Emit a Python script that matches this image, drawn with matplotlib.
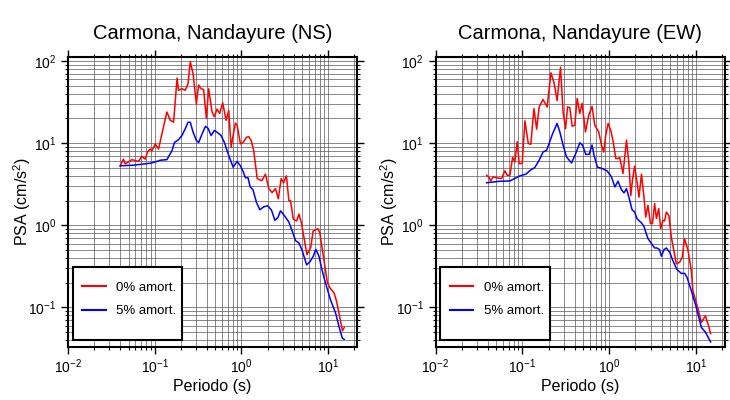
import numpy as np
import matplotlib
matplotlib.use('Agg')
import matplotlib.pyplot as plt
from matplotlib.patches import Rectangle
from matplotlib.ticker import LogLocator, NullFormatter

plt.rcParams['font.family'] = ['Liberation Sans', 'DejaVu Sans']
plt.rcParams['mathtext.fontset'] = 'custom'
plt.rcParams['mathtext.rm'] = 'Liberation Sans'
plt.rcParams['mathtext.it'] = 'Liberation Sans:italic'
plt.rcParams['mathtext.bf'] = 'Liberation Sans:bold'

# Carmona, Nandayure - NS component
ns_t0 = [0.040, 0.0436, 0.0456, 0.0498, 0.0545, 0.065, 0.0711, 0.0776, 0.0826, 0.0887,
         0.0929, 0.1014, 0.1107, 0.138, 0.151, 0.165, 0.181, 0.188, 0.206, 0.225,
         0.242, 0.257, 0.277, 0.302, 0.321, 0.342, 0.366, 0.394, 0.419, 0.458,
         0.487, 0.523, 0.561, 0.608, 0.665, 0.713, 0.760, 0.801, 0.853, 0.891,
         0.973, 1.047, 1.143, 1.214, 1.294, 1.387, 1.52, 1.72, 1.89, 2.07,
         2.26, 2.47, 2.66, 2.87, 3.07, 3.30, 3.52, 3.68, 3.96, 4.33,
         4.60, 4.90, 5.26, 5.70, 6.30, 6.70, 7.60, 8.00, 8.80, 9.80,
         10.6, 11.7, 12.5, 13.9, 14.6, 15.3]
ns_psa0 = [5.3, 6.4, 5.6, 5.9, 6.3, 6.0, 6.9, 6.4, 7.8, 8.5,
           8.1, 9.8, 8.5, 24, 19, 18, 62, 44, 46, 44,
           53, 98, 70, 30, 51, 46, 45, 20, 46, 24,
           21, 26, 23, 31, 19, 25, 8.9, 12.4, 17.6, 16.5,
           9.8, 10.2, 11.8, 12.0, 10.8, 8.1, 3.7, 3.5, 4.2, 2.8,
           2.5, 2.8, 2.1, 3.7, 3.3, 4.0, 2.0, 2.0, 1.19, 1.13,
           1.37, 1.08, 0.71, 0.44, 0.54, 0.85, 0.91, 0.82, 0.42, 0.20,
           0.17, 0.15, 0.119, 0.068, 0.052, 0.057]

ns_t5 = [0.040, 0.0569, 0.0887, 0.106, 0.116, 0.138, 0.158, 0.169, 0.188, 0.206,
         0.225, 0.242, 0.257, 0.277, 0.302, 0.321, 0.352, 0.384, 0.412, 0.447,
         0.487, 0.523, 0.582, 0.636, 0.713, 0.801, 0.891, 0.973, 1.047, 1.11,
         1.19, 1.26, 1.36, 1.49, 1.63, 1.81, 2.01, 2.22, 2.43, 2.63,
         2.82, 3.03, 3.25, 3.52, 3.85, 4.21, 4.60, 5.03, 5.64, 6.16,
         6.74, 7.20, 7.83, 8.57, 9.30, 10.6, 12.2, 13.3, 14.6, 15.3]
ns_psa5 = [5.3, 5.4, 5.7, 6.0, 6.2, 6.3, 8.1, 10.2, 11, 12.4,
           15, 18, 18, 13.6, 10.8, 10.2, 13, 16, 15.2, 12.4,
           14.3, 13.6, 12.4, 10.2, 7.1, 5.1, 6.0, 5.3, 4.5, 3.8,
           3.8, 2.95, 2.7, 1.9, 1.55, 1.68, 1.73, 1.53, 1.15, 1.24,
           1.5, 1.37, 1.24, 1.1, 0.85, 0.65, 0.61, 0.49, 0.33, 0.36,
           0.42, 0.51, 0.42, 0.275, 0.20, 0.125, 0.085, 0.059, 0.042, 0.041]

# Carmona, Nandayure - EW component
ew_t0 = [0.0388, 0.0415, 0.0431, 0.0462, 0.0505, 0.0577, 0.0629, 0.0669, 0.0718, 0.0772,
         0.082, 0.0871, 0.0919, 0.0995, 0.107, 0.117, 0.125, 0.136, 0.146, 0.156,
         0.173, 0.193, 0.213, 0.232, 0.251, 0.275, 0.294, 0.314, 0.331, 0.352,
         0.374, 0.401, 0.427, 0.458, 0.487, 0.532, 0.581, 0.634, 0.681, 0.757,
         0.813, 0.865, 0.912, 0.969, 1.04, 1.11, 1.19, 1.26, 1.32, 1.44,
         1.58, 1.69, 1.77, 1.85, 1.96, 2.09, 2.20, 2.35, 2.51, 2.63,
         2.79, 2.98, 3.14, 3.33, 3.49, 3.71, 3.91, 4.15, 4.34, 4.54,
         4.86, 5.18, 5.92, 6.46, 6.93, 7.35, 8.05, 8.81, 9.17, 10.4,
         11.5, 12.8, 13.7, 14.7]
ew_psa0 = [4.07, 3.8, 3.47, 3.9, 3.78, 3.72, 4.6, 4.07, 4.07, 6.7,
           5.9, 10.4, 5.65, 5.65, 18.7, 9.9, 9.7, 26.4, 14.8, 27.6,
           34, 27.6, 72, 54, 33, 84, 24, 15, 27.6, 27,
           16.1, 16.5, 35, 23, 30.5, 13.7, 22, 28, 16.6, 13.7,
           9.5, 7.8, 12.5, 17.4, 14.4, 10.4, 6.5, 6.5, 6.7, 4.27,
           10.9, 5.4, 2.3, 3.54, 5.25, 3.37, 2.2, 4.2, 2.2, 1.26,
           1.75, 1.05, 1.05, 1.84, 1.21, 1.6, 0.91, 1.15, 1.13, 1.45,
           1.32, 0.72, 0.34, 0.355, 0.41, 0.69, 0.50, 0.28, 0.16, 0.10,
           0.066, 0.079, 0.063, 0.048]

ew_t5 = [0.0388, 0.0551, 0.0718, 0.082, 0.0936, 0.110, 0.124, 0.139, 0.156, 0.173,
         0.190, 0.203, 0.222, 0.251, 0.270, 0.294, 0.322, 0.368, 0.412, 0.458,
         0.492, 0.537, 0.586, 0.634, 0.669, 0.731, 0.835, 0.944, 1.06, 1.16,
         1.26, 1.38, 1.48, 1.58, 1.72, 1.83, 1.96, 2.09, 2.35, 2.51,
         2.63, 2.79, 3.06, 3.33, 3.54, 3.80, 3.98, 4.27, 4.54, 4.96,
         5.41, 6.01, 6.76, 7.38, 7.84, 8.81, 10.05, 11.5, 12.8, 14.7]
ew_psa5 = [3.3, 3.44, 3.47, 3.72, 4.0, 4.2, 4.7, 5.05, 6.2, 7.8,
           8.2, 9.9, 12.9, 17.4, 13.7, 9.5, 6.8, 5.75, 7.5, 10.1,
           9.5, 7.3, 7.3, 9.5, 7.1, 5.1, 4.9, 4.6, 3.9, 2.93,
           3.44, 2.72, 2.48, 2.8, 2.02, 1.55, 1.45, 1.2, 1.07, 0.97,
           0.83, 0.69, 0.60, 0.53, 0.53, 0.505, 0.42, 0.505, 0.53, 0.47,
           0.37, 0.29, 0.26, 0.26, 0.234, 0.16, 0.10, 0.057, 0.050, 0.038]

titles = ['Carmona, Nandayure (NS)', 'Carmona, Nandayure (EW)']
labels = ['0% amort.', '5% amort.']

fig = plt.figure(figsize=(7.3, 4.0), dpi=100)
ax1 = fig.add_axes([68 / 730, 53 / 400, 289 / 730, 290 / 400])
ax2 = fig.add_axes([435.5 / 730, 53 / 400, 289.5 / 730, 290 / 400])

panels = [(ax1, ns_t0, ns_psa0, ns_t5, ns_psa5),
          (ax2, ew_t0, ew_psa0, ew_t5, ew_psa5)]

for i, (ax, t0, p0, t5, p5) in enumerate(panels):
    ax.loglog(t0, p0, color='#ff0000', lw=1.1, label=labels[0], zorder=3)
    ax.loglog(t5, p5, color='#0000ff', lw=1.1, label=labels[1], zorder=3)
    ax.set_xlim(0.01, 21.5)
    ax.set_ylim(0.033, 112)

    ax.xaxis.set_major_locator(LogLocator(base=10, numticks=10))
    ax.xaxis.set_minor_locator(LogLocator(base=10, subs=np.arange(2, 10), numticks=30))
    ax.yaxis.set_major_locator(LogLocator(base=10, numticks=10))
    ax.yaxis.set_minor_locator(LogLocator(base=10, subs=np.arange(2, 10), numticks=30))
    ax.xaxis.set_minor_formatter(NullFormatter())
    ax.yaxis.set_minor_formatter(NullFormatter())

    ax.grid(which='both', color='0.35', lw=0.5)
    ax.set_axisbelow(True)
    ax.tick_params(which='both', direction='out', top=True, right=True, labelsize=10)
    ax.tick_params(which='major', length=5, width=1)
    ax.tick_params(which='minor', length=2.5, width=0.8)
    ax.tick_params(axis='x', which='major', pad=2.5)
    for s in ax.spines.values():
        s.set_linewidth(1.5)

    ax.set_title(titles[i], fontsize=14.5, pad=13)
    ax.set_xlabel('Periodo (s)', fontsize=11.5, labelpad=2)
    ax.set_ylabel('PSA (cm/s$^2$)', fontsize=11.5, labelpad=-3.5)

    # legend box
    box = Rectangle((0.017, 0.024), 0.377, 0.253, transform=ax.transAxes,
                    facecolor='white', edgecolor='black', lw=1.5, zorder=4)
    ax.add_patch(box)
    leg = ax.legend(loc='center', bbox_to_anchor=(0.212, 0.164), frameon=False,
                    fontsize=9.5, handlelength=1.8, handletextpad=0.8,
                    labelspacing=0.85, borderaxespad=0)
    leg.set_zorder(5)
    for line in leg.get_lines():
        line.set_linewidth(1.5)

fig.savefig('out.png', dpi=100)
